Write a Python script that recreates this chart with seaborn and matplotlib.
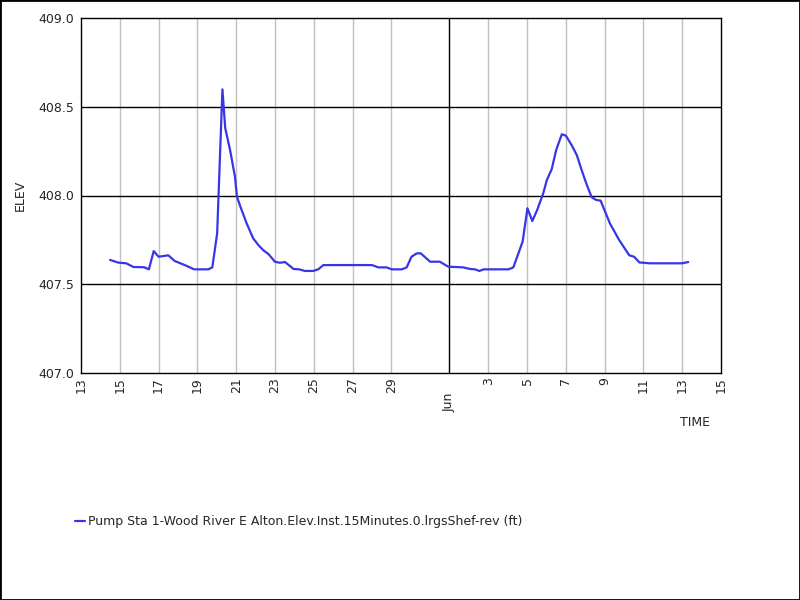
import matplotlib
matplotlib.use("Agg")
import matplotlib.pyplot as plt
import seaborn as sns
import pandas as pd
from matplotlib.patches import Rectangle

times = [
    "2024-05-14 12:00", "2024-05-14 22:00", "2024-05-15 08:00", "2024-05-15 17:00",
    "2024-05-16 06:00", "2024-05-16 12:00", "2024-05-16 18:00", "2024-05-17 00:00",
    "2024-05-17 12:00", "2024-05-17 20:00", "2024-05-18 11:00", "2024-05-18 20:00",
    "2024-05-19 13:30", "2024-05-19 18:30", "2024-05-20 00:30", "2024-05-20 07:00",
    "2024-05-20 10:30", "2024-05-20 16:30", "2024-05-20 22:30", "2024-05-21 01:00",
    "2024-05-21 06:00", "2024-05-21 13:00", "2024-05-21 21:00", "2024-05-22 03:30",
    "2024-05-22 09:30", "2024-05-22 16:00", "2024-05-23 00:00", "2024-05-23 06:00",
    "2024-05-23 12:30", "2024-05-23 23:00", "2024-05-24 06:00", "2024-05-24 13:00",
    "2024-05-24 23:30", "2024-05-25 05:30", "2024-05-25 12:00", "2024-05-28 00:00",
    "2024-05-28 08:00", "2024-05-28 18:00", "2024-05-29 00:30", "2024-05-29 13:00",
    "2024-05-29 19:00", "2024-05-30 01:00", "2024-05-30 07:30", "2024-05-30 12:30",
    "2024-05-31 00:00", "2024-05-31 12:00", "2024-05-31 22:30", "2024-06-01 17:00",
    "2024-06-02 01:30", "2024-06-02 07:30", "2024-06-02 13:00", "2024-06-02 18:30",
    "2024-06-04 01:00", "2024-06-04 07:00", "2024-06-04 18:30", "2024-06-05 00:30",
    "2024-06-05 06:30", "2024-06-05 12:30", "2024-06-05 20:00", "2024-06-06 00:30",
    "2024-06-06 06:30", "2024-06-06 12:00", "2024-06-06 19:00", "2024-06-07 00:00",
    "2024-06-07 07:00", "2024-06-07 13:30", "2024-06-07 19:30", "2024-06-08 02:00",
    "2024-06-08 08:00", "2024-06-08 13:30", "2024-06-08 19:00", "2024-06-09 06:30",
    "2024-06-09 18:00", "2024-06-10 06:30", "2024-06-10 12:30", "2024-06-10 19:00",
    "2024-06-11 08:00", "2024-06-12 23:30", "2024-06-13 07:30",
]
elev = [
    407.637, 407.622, 407.618, 407.597,
    407.596, 407.584, 407.687, 407.655,
    407.663, 407.631, 407.603, 407.584,
    407.584, 407.595, 407.787, 408.598,
    408.379, 408.256, 408.106, 407.993,
    407.928, 407.843, 407.759, 407.721,
    407.692, 407.670, 407.627, 407.621,
    407.625, 407.586, 407.584, 407.575,
    407.575, 407.584, 407.608, 407.608,
    407.595, 407.595, 407.584, 407.584,
    407.595, 407.655, 407.674, 407.674,
    407.627, 407.627, 407.599, 407.595,
    407.586, 407.584, 407.575, 407.584,
    407.584, 407.595, 407.740, 407.928,
    407.856, 407.918, 408.012, 408.087,
    408.148, 408.256, 408.345, 408.337,
    408.285, 408.228, 408.144, 408.059,
    407.990, 407.975, 407.971, 407.843,
    407.749, 407.663, 407.655, 407.623,
    407.618, 407.618, 407.625,
]
series_label = "Pump Sta 1-Wood River E Alton.Elev.Inst.15Minutes.0.lrgsShef-rev (ft)"
tick_dates = ["2024-05-13", "2024-05-15", "2024-05-17", "2024-05-19", "2024-05-21",
              "2024-05-23", "2024-05-25", "2024-05-27", "2024-05-29", "2024-06-01",
              "2024-06-03", "2024-06-05", "2024-06-07", "2024-06-09", "2024-06-11",
              "2024-06-13", "2024-06-15"]
tick_labels = ["13", "15", "17", "19", "21", "23", "25", "27", "29", "Jun",
               "3", "5", "7", "9", "11", "13", "15"]
y_ticks = [407.0, 407.5, 408.0, 408.5, 409.0]

sns.set_style("white")
plt.rcParams['font.family'] = ['DejaVu Sans']
FS = 9

df = pd.DataFrame({"time": pd.to_datetime(times), "elev": elev})

fig = plt.figure(figsize=(8, 6), dpi=100)
ax = fig.add_axes([81/800, 1-373/600, 640/800, 355/600])
sns.lineplot(data=df, x="time", y="elev", ax=ax, color="#3636e8", linewidth=1.6,
             label=series_label, legend=False)

tds = pd.to_datetime(tick_dates)
day_t = [d for d, l in zip(tds, tick_labels) if l != "Jun"]
day_l = [l for l in tick_labels if l != "Jun"]
mon_t = [d for d, l in zip(tds, tick_labels) if l == "Jun"]
mon_l = [l for l in tick_labels if l == "Jun"]

ax.set_xlim(tds[0], tds[-1])
ax.set_ylim(407.0, 409.0)
ax.set_xticks(day_t)
ax.set_xticklabels(day_l, rotation=90, fontsize=FS, va="top", ha="center")
ax.set_xticks(mon_t, minor=True)
ax.set_xticklabels(mon_l, minor=True, rotation=90, fontsize=FS, va="top", ha="center")
ax.set_yticks(y_ticks)
ax.set_yticklabels([f"{v:.1f}" for v in y_ticks], fontsize=FS)
ax.tick_params(axis="x", which="major", direction="out", length=2, width=0.8,
               color="#999999", pad=1)
ax.tick_params(axis="x", which="minor", direction="out", length=14, width=1.0,
               color="black", pad=0)
ax.tick_params(axis="y", direction="out", length=3, width=0.8, color="black", pad=2)

for d in day_t[1:-1]:
    ax.axvline(d, color="#c0c0c0", linewidth=1.0, zorder=1)
for d in mon_t:
    ax.axvline(d, color="black", linewidth=1.0, zorder=1)
for v in y_ticks[1:-1]:
    ax.axhline(v, color="black", linewidth=1.0, zorder=1)

for s in ax.spines.values():
    s.set_visible(True)
    s.set_color("black")
    s.set_linewidth(1.0)

ax.set_xlabel("")
ax.set_ylabel("")
fig.text(695/800, 1-423/600, "TIME", fontsize=FS, ha="center", va="center")
fig.text(20/800, 1-195/600, "ELEV", fontsize=FS, ha="center", va="center", rotation=90)

h, l = ax.get_legend_handles_labels()
fig.legend(h, l, loc="center left", bbox_to_anchor=(75/800, 1-522/600), frameon=False,
           fontsize=FS, handlelength=0.8, handletextpad=0.2, borderpad=0,
           borderaxespad=0)

fig.add_artist(Rectangle((0, 0), 1, 1, transform=fig.transFigure, fill=False,
                         edgecolor="black", linewidth=2))

fig.savefig("out.png", dpi=100)
